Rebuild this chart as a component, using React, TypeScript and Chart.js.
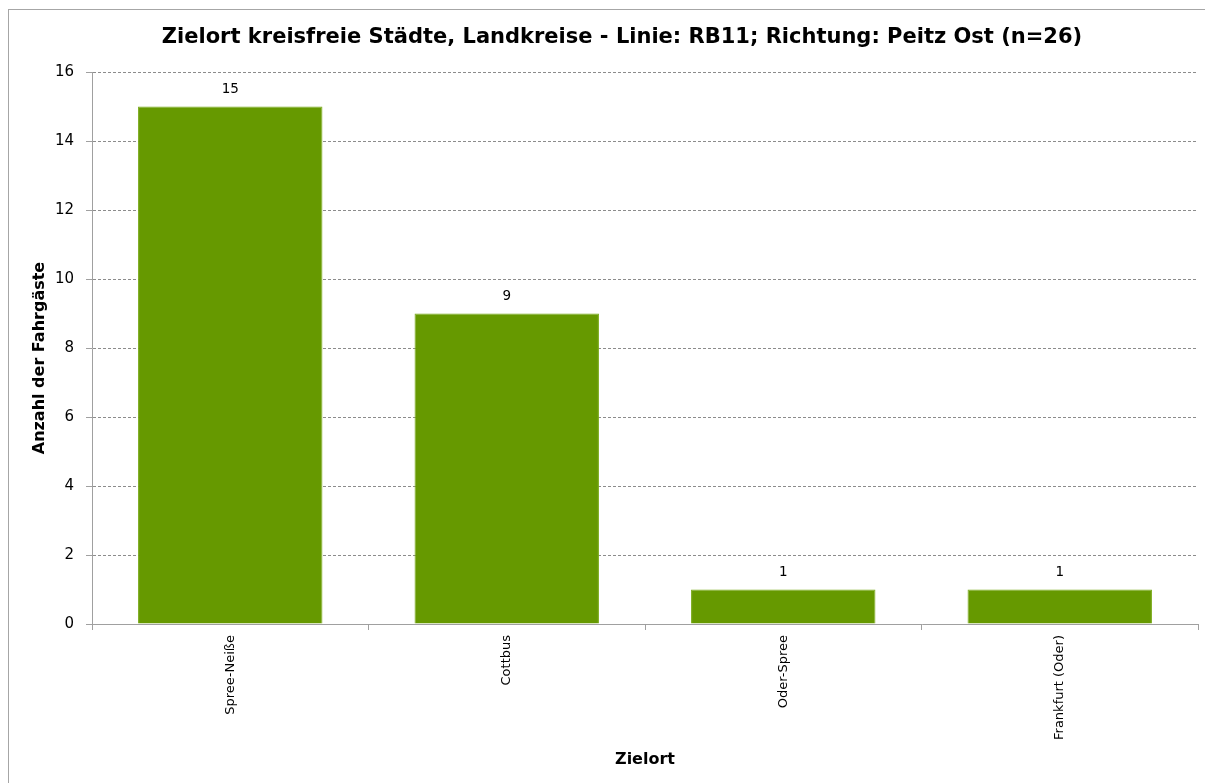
import React, { useEffect, useRef } from "react";
import { Chart, registerables } from "chart.js";

Chart.register(...registerables);

const chartTitle = "Zielort kreisfreie Städte, Landkreise - Linie: RB11; Richtung: Peitz Ost (n=26)";
const yAxisTitle = "Anzahl der Fahrgäste";
const xAxisTitle = "Zielort";
const categories = ["Spree-Neiße", "Cottbus", "Oder-Spree", "Frankfurt (Oder)"];
const passengerCounts = [15, 9, 1, 1];
const yMin = 0;
const yMax = 16;
const yStep = 2;

const FONT = '"DejaVu Sans", Verdana, sans-serif';
const BAR_COLOR = "#669900";
const GRID_COLOR = "#8c8c8c";
const AXIS_COLOR = "#a0a0a0";

const decorations = {
  id: "decorations",
  afterDatasetsDraw(chart: any) {
    const ctx = chart.ctx;
    const meta = chart.getDatasetMeta(0);
    ctx.save();
    ctx.fillStyle = "#000";
    ctx.font = `13.5px ${FONT}`;
    ctx.textAlign = "center";
    ctx.textBaseline = "middle";
    meta.data.forEach((bar: any, i: number) => {
      ctx.fillText(String(passengerCounts[i]), bar.x, bar.y - 17);
    });
    ctx.restore();
  },
  afterDraw(chart: any) {
    const ctx = chart.ctx;
    const area = chart.chartArea;
    ctx.save();
    // outer frame
    ctx.strokeStyle = "#a6a6a6";
    ctx.lineWidth = 1;
    ctx.strokeRect(8.5, 9.5, 1300, 900);
    // title
    ctx.fillStyle = "#000";
    ctx.font = `bold 21px ${FONT}`;
    ctx.textAlign = "center";
    ctx.textBaseline = "middle";
    ctx.fillText(chartTitle, 622, 38);
    // x axis title
    ctx.font = `bold 16px ${FONT}`;
    ctx.fillText(xAxisTitle, (area.left + area.right) / 2, 760);
    // y axis title
    ctx.translate(40, 358);
    ctx.rotate(-Math.PI / 2);
    ctx.font = `bold 16px ${FONT}`;
    ctx.fillText(yAxisTitle, 0, 0);
    ctx.restore();
  },
};

export default function App() {
  const canvasRef = useRef<HTMLCanvasElement | null>(null);

  useEffect(() => {
    document.body.style.margin = "0";
    const canvas = canvasRef.current;
    if (!canvas) return;
    const chart = new Chart(canvas, {
      type: "bar",
      data: {
        labels: categories,
        datasets: [
          {
            data: passengerCounts,
            backgroundColor: BAR_COLOR,
            borderColor: "#7aab1a",
            borderWidth: 1,
            categoryPercentage: 1,
            barPercentage: 0.667,
          },
        ],
      },
      options: {
        responsive: false,
        animation: false,
        devicePixelRatio: 1,
        layout: { padding: { top: 72, right: 7, left: 0, bottom: 0 } },
        plugins: {
          legend: { display: false },
          title: { display: false },
          tooltip: { enabled: false },
        },
        scales: {
          x: {
            offset: true,
            grid: {
              offset: true,
              drawOnChartArea: false,
              drawTicks: true,
              tickLength: 6,
              color: AXIS_COLOR,
              tickColor: AXIS_COLOR,
            },
            border: { color: AXIS_COLOR, width: 1 },
            ticks: {
              minRotation: 90,
              maxRotation: 90,
              autoSkip: false,
              padding: 5,
              color: "#000",
              font: { family: FONT, size: 13 },
            },
            afterFit: (scale: any) => {
              scale.height = 159;
            },
          },
          y: {
            min: yMin,
            max: yMax,
            grid: {
              color: GRID_COLOR,
              tickColor: AXIS_COLOR,
              tickLength: 6,
              drawTicks: true,
            },
            border: { color: AXIS_COLOR, width: 1, dash: [3, 2] },
            ticks: {
              stepSize: yStep,
              padding: 12,
              color: "#000",
              font: { family: FONT, size: 15 },
            },
            afterFit: (scale: any) => {
              scale.width = 92;
            },
          },
        },
      },
      plugins: [decorations],
    });
    return () => chart.destroy();
  }, []);

  return (
    <canvas
      ref={canvasRef}
      width={1205}
      height={783}
      style={{ display: "block", width: 1205, height: 783 }}
    />
  );
}
